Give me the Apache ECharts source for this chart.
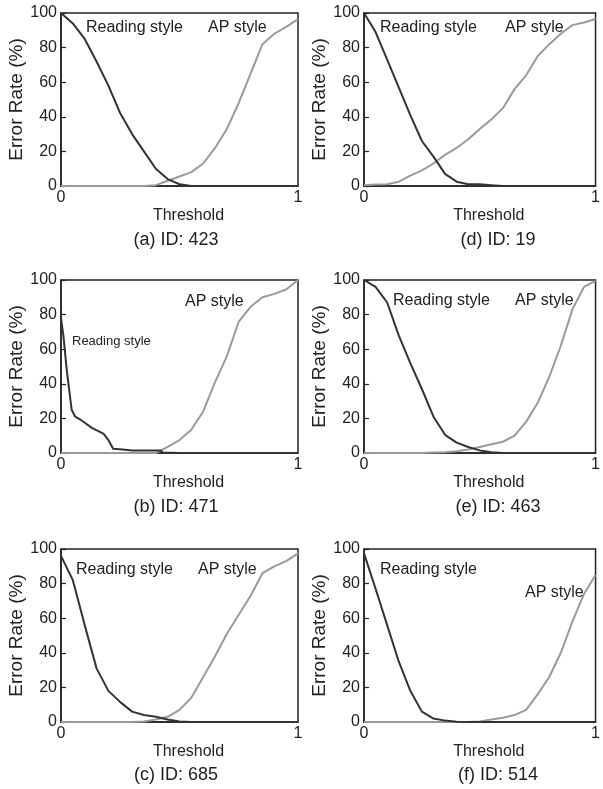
<!DOCTYPE html>
<html><head><meta charset="utf-8">
<script src="https://cdn.jsdelivr.net/npm/echarts@6/dist/echarts.min.js"></script>
<style>html,body{margin:0;padding:0;background:#fff}#c{width:603px;height:789px}</style>
</head><body><div id="c"></div>
<script>
// Shared threshold grid (0..1 step 0.05)
const thresholds = [0,0.05,0.1,0.15,0.2,0.25,0.3,0.35,0.4,0.45,0.5,0.55,0.6,0.65,0.7,0.75,0.8,0.85,0.9,0.95,1];

// Panel captions
const captions = ["(a) ID: 423","(b) ID: 471","(c) ID: 685","(d) ID: 19","(e) ID: 463","(f) ID: 514"];

// (a) ID 423
const readA = [100,94,85,72,58,42,30,20,10,4,1,0,0,0,0,0,0,0,0,0,0];
const apA   = [0,0,0,0,0,0,0,0,0.5,3,5.5,8,13,22,33,48,65,82,88,92,96.5];
// (b) ID 471  (reading style sampled at its own thresholds)
const readBx = [0,0.01,0.025,0.045,0.06,0.08,0.1,0.13,0.16,0.18,0.2,0.22,0.26,0.3,0.35,0.42,0.43,0.5,1];
const readB  = [78,68,47,25,21,19.5,17.5,14.5,12.5,11,7.5,2.5,2,1.5,1.5,1.5,0.3,0,0];
const apB    = [0,0,0,0,0,0,0,0,0,3.5,7.5,13.5,24,41,56,76,84.5,90,92,94.5,100];
// (c) ID 685
const readC = [96,82,56,31,18,11.5,6,4,3,1.5,0.3,0,0,0,0,0,0,0,0,0,0];
const apC   = [0,0,0,0,0,0,0,0.3,1.5,3,7,14,26,38,51,62,73,86,90,93,97.5];
// (d) ID 19
const readD = [100,89,73,57,41,26,17,7,2.5,1,1,0.5,0,0,0,0,0,0,0,0,0];
const apD   = [0.5,0.8,1,2.5,6,9,13,18,22,27,33,38.5,45,56,64,75,82,88,93,94.5,96.5];
// (e) ID 463
const readE = [100,96,87,68,52,37,21,10.5,6,3.5,1.5,0.5,0,0,0,0,0,0,0,0,0];
const apE   = [0,0,0,0,0,0,0.3,0.5,1,2,3.5,5,6.5,10,18,29,44,62,83,96,99.5];
// (f) ID 514
const readF = [97.5,77,56,35,18,6,2,0.8,0.2,0,0,0,0,0,0,0,0,0,0,0,0];
const apF   = [0,0,0,0,0,0,0,0,0,0,0.3,1.5,2.5,4,7,16,26,40,58,74,85];

const yTicks = [0,20,40,60,80,100];
const xTickLabels = ["0","1"];

const panels = [
  {rx: thresholds, r: readA, a: apA},
  {rx: readBx, r: readB, a: apB},
  {rx: thresholds, r: readC, a: apC},
  {rx: thresholds, r: readD, a: apD},
  {rx: thresholds, r: readE, a: apE},
  {rx: thresholds, r: readF, a: apF}
];

// layout
const FONT = "'Liberation Sans', Arial, Helvetica, sans-serif";
const lefts = [61,61,61,364,364,364];
const tops  = [13,280,549,13,280,549];
const W = 237, H = 173;

const grids=[], xAxes=[], yAxes=[], series=[], graphics=[];
panels.forEach((p,i)=>{
  grids.push({left:lefts[i], top:tops[i], width:W, height:H, show:true, borderColor:'#222', borderWidth:1.5, backgroundColor:'transparent'});
  xAxes.push({type:'value', gridIndex:i, min:0, max:1, interval:1,
    name:'Threshold', nameLocation:'middle', nameGap:22,
    nameTextStyle:{fontFamily:FONT, fontSize:16, color:'#222', padding:[0,0,0,18]},
    axisLine:{show:true, lineStyle:{color:'#222', width:1.5}},
    axisTick:{show:false}, splitLine:{show:false},
    axisLabel:{margin:4, fontFamily:FONT, fontSize:16, color:'#222',
      formatter:(v)=> v===0 ? xTickLabels[0] : (v===1 ? xTickLabels[1] : '')}});
  yAxes.push({type:'value', gridIndex:i, min:0, max:100, interval:20,
    name:'Error Rate (%)', nameLocation:'middle', nameGap:31,
    nameTextStyle:{fontFamily:FONT, fontSize:19, color:'#222'},
    axisLine:{show:true, lineStyle:{color:'#222', width:1.5}},
    axisTick:{show:true, inside:true, length:5, lineStyle:{color:'#222', width:1.2}},
    splitLine:{show:false},
    axisLabel:{margin:4, fontFamily:FONT, fontSize:16, color:'#222'}});
  series.push({type:'line', xAxisIndex:i, yAxisIndex:i, symbol:'none', z:3,
    lineStyle:{color:'#9a9a9a', width:2}, data:thresholds.map((x,k)=>[x,p.a[k]])});
  series.push({type:'line', xAxisIndex:i, yAxisIndex:i, symbol:'none', z:4,
    lineStyle:{color:'#333333', width:2}, data:p.rx.map((x,k)=>[x,p.r[k]])});
});

// captions
const capX = [176,176,176,498,498,498];
const capY = [240,507,775,240,507,775];
captions.forEach((c,i)=>{
  graphics.push({type:'text', x: capX[i], y: capY[i],
    style:{text:c, fontFamily:FONT, fontSize:18, fill:'#222', textAlign:'center', textVerticalAlign:'middle'}});
});
// in-plot annotations
const notes = [
  ["Reading style",86,28,16],["AP style",208,28,16],
  ["Reading style",72,341,13],["AP style",185,302,16],
  ["Reading style",76,570,16],["AP style",198,570,16],
  ["Reading style",380,28,16],["AP style",505,28,16],
  ["Reading style",393,301,16],["AP style",515,301,16],
  ["Reading style",380,570,16],["AP style",525,593,16]
];
notes.forEach(n=>{
  graphics.push({type:'text', x:n[1], y:n[2], z:10,
    style:{text:n[0], fontFamily:FONT, fontSize:n[3], fill:'#222', textAlign:'left', textVerticalAlign:'middle'}});
});

const chart = echarts.init(document.getElementById('c'), null, {renderer:'canvas'});
chart.setOption({
  animation:false, backgroundColor:'#fff',
  grid:grids, xAxis:xAxes, yAxis:yAxes, series:series,
  graphic:graphics
});
</script></body></html>
